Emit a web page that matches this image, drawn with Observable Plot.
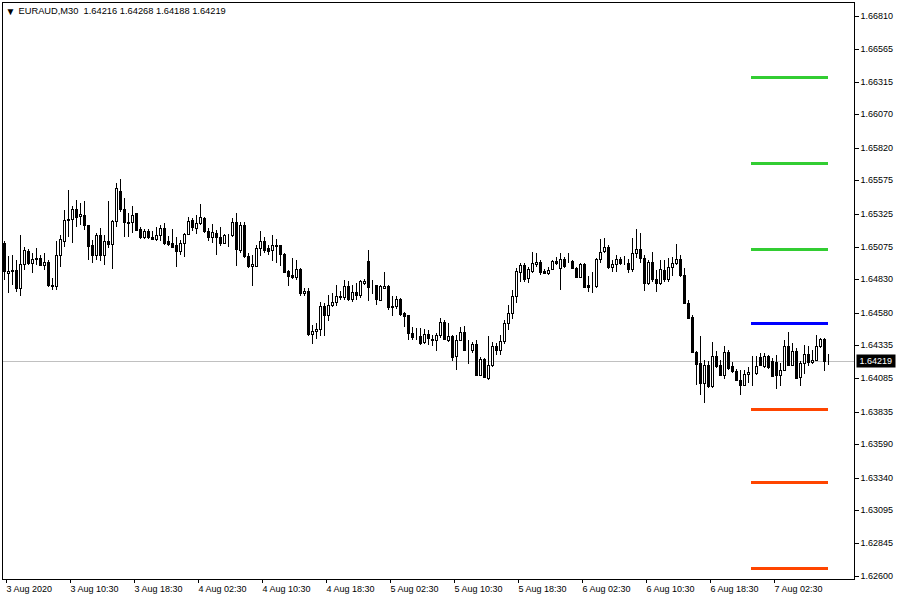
<!DOCTYPE html>
<html><head><meta charset="utf-8">
<script src="https://cdn.jsdelivr.net/npm/d3@7"></script>
<script src="https://cdn.jsdelivr.net/npm/@observablehq/plot@0.6"></script>
<style>
body{margin:0;background:#fff;}
#chart{position:relative;width:900px;height:600px;}
</style></head><body><div id="chart"></div>
<script>
const symbol = "EURAUD", timeframe = "M30";

const open = [
1.65102,1.64877,1.64895,1.64902,1.64765,1.64945,1.65047,1.64952,1.64992,1.64990,
1.64935,1.64960,1.64790,1.64777,1.65015,1.65122,1.65277,1.65282,1.65357,1.65307,
1.65315,1.65240,1.65090,1.65010,1.65165,1.65010,1.65120,1.65097,1.65270,1.65495,
1.65357,1.65260,1.65260,1.65327,1.65210,1.65145,1.65195,1.65150,1.65132,1.65165,
1.65215,1.65115,1.65102,1.65090,1.65045,1.65102,1.65172,1.65277,1.65215,1.65257,
1.65290,1.65190,1.65152,1.65182,1.65152,1.65107,1.65165,1.65160,1.65265,1.65052,
1.65240,1.65007,1.64927,1.64932,1.65065,1.65120,1.65065,1.65052,1.65085,1.65090,
1.65022,1.64890,1.64865,1.64845,1.64907,1.64727,1.64745,1.64420,1.64442,1.64460,
1.64632,1.64560,1.64635,1.64660,1.64702,1.64697,1.64782,1.64682,1.64737,1.64715,
1.64802,1.64970,1.64772,1.64790,1.64677,1.64765,1.64782,1.64627,1.64632,1.64682,
1.64576,1.64563,1.64426,1.64398,1.64408,1.64356,1.64421,1.64383,1.64376,1.64413,
1.64508,1.64376,1.64406,1.64256,1.64376,1.64438,1.64298,1.64296,1.64346,1.64113,
1.64231,1.64088,1.64188,1.64331,1.64296,1.64363,1.64501,1.64576,1.64706,1.64888,
1.64938,1.64838,1.64896,1.64946,1.64963,1.64896,1.64881,1.64906,1.64971,1.64913,
1.64981,1.64971,1.64971,1.64913,1.64851,1.64943,1.64788,1.64783,1.64783,1.64981,
1.65046,1.65071,1.64921,1.64943,1.64981,1.64951,1.64956,1.64906,1.65026,1.65056,
1.64988,1.64801,1.64963,1.64831,1.64801,1.64901,1.64831,1.64921,1.64951,1.64983,
1.64863,1.64656,1.64546,1.64281,1.64201,1.64051,1.64188,1.64026,1.64256,1.64188,
1.64113,1.64281,1.64176,1.64138,1.64076,1.64038,1.64121,1.64133,1.64126,1.64246,
1.64176,1.64256,1.64213,1.64206,1.64108,1.64151,1.64331,1.64188,1.64293,1.64096,
1.64201,1.64271,1.64206,1.64226,1.64326,1.64381,1.64216];

const high = [
1.65115,1.65002,1.65015,1.64977,1.65165,1.65077,1.65057,1.65027,1.65065,1.65015,
1.65027,1.64972,1.64840,1.65115,1.65165,1.65352,1.65502,1.65382,1.65427,1.65402,
1.65422,1.65240,1.65127,1.65182,1.65215,1.65165,1.65422,1.65277,1.65557,1.65582,
1.65440,1.65327,1.65382,1.65332,1.65227,1.65207,1.65207,1.65195,1.65222,1.65240,
1.65252,1.65157,1.65207,1.65152,1.65127,1.65182,1.65302,1.65290,1.65315,1.65397,
1.65302,1.65215,1.65245,1.65202,1.65227,1.65172,1.65170,1.65290,1.65327,1.65265,
1.65265,1.65032,1.65015,1.65090,1.65197,1.65152,1.65090,1.65165,1.65132,1.65090,
1.65027,1.64902,1.64990,1.64977,1.64915,1.64765,1.64765,1.64490,1.64502,1.64657,
1.64652,1.64715,1.64727,1.64790,1.64740,1.64827,1.64815,1.64790,1.64802,1.64827,
1.64832,1.65052,1.64822,1.64790,1.64790,1.64885,1.64790,1.64702,1.64702,1.64690,
1.64588,1.64563,1.64471,1.64463,1.64463,1.64456,1.64446,1.64413,1.64426,1.64538,
1.64526,1.64501,1.64413,1.64413,1.64471,1.64476,1.64376,1.64356,1.64376,1.64246,
1.64238,1.64406,1.64356,1.64351,1.64413,1.64526,1.64638,1.64751,1.64913,1.64951,
1.64951,1.64926,1.65033,1.65026,1.64976,1.64906,1.64926,1.64976,1.65001,1.65026,
1.65001,1.65031,1.64976,1.64926,1.64956,1.64956,1.64856,1.64888,1.64988,1.65131,
1.65138,1.65088,1.64976,1.65013,1.65001,1.65006,1.64981,1.65138,1.65206,1.65176,
1.65013,1.64976,1.65038,1.64901,1.64976,1.64976,1.64988,1.65001,1.65096,1.65013,
1.64913,1.64676,1.64563,1.64288,1.64401,1.64226,1.64213,1.64356,1.64288,1.64226,
1.64331,1.64296,1.64206,1.64156,1.64151,1.64151,1.64171,1.64251,1.64251,1.64276,
1.64276,1.64263,1.64238,1.64263,1.64201,1.64376,1.64438,1.64351,1.64313,1.64213,
1.64338,1.64326,1.64296,1.64413,1.64388,1.64388,1.64268];

const low = [
1.64827,1.64727,1.64790,1.64732,1.64702,1.64902,1.64940,1.64877,1.64940,1.64927,
1.64902,1.64772,1.64752,1.64752,1.64920,1.65072,1.65152,1.65102,1.65227,1.65240,
1.65202,1.64977,1.64952,1.64977,1.64965,1.64940,1.65065,1.64907,1.65222,1.65340,
1.65152,1.65147,1.65177,1.65190,1.65132,1.65132,1.65135,1.65127,1.65122,1.65115,
1.65090,1.65082,1.65072,1.64920,1.65015,1.64997,1.65160,1.65197,1.65172,1.65240,
1.65177,1.65122,1.65107,1.65015,1.65082,1.65097,1.65077,1.65152,1.64927,1.65027,
1.64990,1.64915,1.64782,1.64922,1.65002,1.65027,1.65015,1.64965,1.64952,1.64927,
1.64882,1.64777,1.64832,1.64827,1.64707,1.64702,1.64402,1.64347,1.64382,1.64402,
1.64402,1.64515,1.64622,1.64627,1.64672,1.64672,1.64665,1.64657,1.64672,1.64690,
1.64790,1.64665,1.64722,1.64640,1.64665,1.64757,1.64602,1.64552,1.64607,1.64552,
1.64471,1.64376,1.64376,1.64371,1.64338,1.64346,1.64338,1.64326,1.64288,1.64388,
1.64371,1.64356,1.64213,1.64146,1.64363,1.64288,1.64196,1.64276,1.64101,1.64101,
1.64088,1.64071,1.64171,1.64263,1.64263,1.64346,1.64451,1.64531,1.64651,1.64813,
1.64813,1.64806,1.64881,1.64926,1.64863,1.64871,1.64863,1.64901,1.64938,1.64751,
1.64913,1.64951,1.64906,1.64838,1.64838,1.64763,1.64738,1.64731,1.64763,1.64956,
1.65026,1.64906,1.64888,1.64888,1.64938,1.64938,1.64876,1.64888,1.64988,1.64951,
1.64746,1.64788,1.64813,1.64738,1.64788,1.64813,1.64813,1.64856,1.64938,1.64851,
1.64651,1.64531,1.64276,1.64038,1.63963,1.63901,1.64013,1.64013,1.64163,1.64101,
1.64081,1.64151,1.64126,1.64063,1.63963,1.64026,1.64051,1.64026,1.64113,1.64176,
1.64163,1.64156,1.64096,1.64006,1.64026,1.64146,1.64176,1.64176,1.64081,1.64026,
1.64121,1.64176,1.64196,1.64213,1.64313,1.64138,1.64188];

const close = [
1.64890,1.64895,1.64902,1.64765,1.64945,1.65052,1.64952,1.64982,1.64982,1.64935,
1.64960,1.64785,1.64777,1.65015,1.65132,1.65277,1.65282,1.65357,1.65297,1.65322,
1.65240,1.65082,1.65010,1.65165,1.65010,1.65120,1.65097,1.65270,1.65515,1.65357,
1.65260,1.65257,1.65315,1.65202,1.65145,1.65195,1.65145,1.65132,1.65165,1.65215,
1.65102,1.65097,1.65077,1.65045,1.65107,1.65172,1.65272,1.65222,1.65252,1.65297,
1.65190,1.65152,1.65185,1.65152,1.65107,1.65165,1.65160,1.65260,1.65057,1.65240,
1.65007,1.64927,1.64945,1.65065,1.65120,1.65052,1.65047,1.65090,1.65082,1.65020,
1.64882,1.64852,1.64845,1.64907,1.64727,1.64740,1.64420,1.64442,1.64460,1.64632,
1.64560,1.64640,1.64660,1.64702,1.64700,1.64782,1.64682,1.64737,1.64715,1.64820,
1.64820,1.64772,1.64770,1.64682,1.64777,1.64782,1.64622,1.64625,1.64682,1.64572,
1.64558,1.64426,1.64396,1.64396,1.64351,1.64421,1.64388,1.64371,1.64413,1.64508,
1.64381,1.64406,1.64246,1.64376,1.64438,1.64296,1.64296,1.64346,1.64113,1.64231,
1.64096,1.64188,1.64331,1.64296,1.64363,1.64501,1.64576,1.64706,1.64896,1.64938,
1.64831,1.64906,1.64956,1.64963,1.64888,1.64881,1.64901,1.64971,1.64951,1.64981,
1.64931,1.64968,1.64913,1.64851,1.64943,1.64776,1.64776,1.64781,1.64981,1.65038,
1.65071,1.64921,1.64943,1.64981,1.64956,1.64956,1.64906,1.65026,1.65056,1.64988,
1.64801,1.64963,1.64831,1.64801,1.64906,1.64831,1.64921,1.64951,1.64983,1.64863,
1.64656,1.64538,1.64281,1.64196,1.64051,1.64188,1.64026,1.64256,1.64181,1.64113,
1.64281,1.64163,1.64138,1.64071,1.64038,1.64121,1.64133,1.64131,1.64176,1.64188,
1.64256,1.64171,1.64106,1.64113,1.64151,1.64331,1.64188,1.64288,1.64088,1.64201,
1.64271,1.64206,1.64226,1.64326,1.64381,1.64218,1.64219];

const xTickBars = [0,16,32,48,64,80,96,112,128,144,160,176,192];
const xTickLabels = ["3 Aug 2020","3 Aug 10:30","3 Aug 18:30","4 Aug 02:30","4 Aug 10:30","4 Aug 18:30",
  "5 Aug 02:30","5 Aug 10:30","5 Aug 18:30","6 Aug 02:30","6 Aug 10:30","6 Aug 18:30","7 Aug 02:30"];
const yTicks = [1.66810,1.66565,1.66315,1.66070,1.65820,1.65575,1.65325,1.65075,1.64830,
  1.64580,1.64335,1.64085,1.63835,1.63590,1.63340,1.63095,1.62845,1.62600];

const levelPrices = [1.66351,1.65704,1.65058,1.64501,1.63854,1.63305,1.62659];
const levelColors = ["#32cd32","#32cd32","#32cd32","#0000ff","#ff4500","#ff4500","#ff4500"];
const levelFromBar = 186.75, levelToBar = 206;

const candles = open.map((o, i) => ({i, open: o, high: high[i], low: low[i], close: close[i]}));
const levels = levelPrices.map((p, k) => ({price: p, color: levelColors[k], from: levelFromBar, to: levelToBar}));
const last = candles.length - 1;
const lastClose = close[last];
const lastLabel = lastClose.toFixed(5);
const title = `${symbol},${timeframe}  ` + [open[last], high[last], low[last], close[last]].map(v => v.toFixed(5)).join(" ");

const crisp = {shapeRendering: "crispEdges"};
const plot = Plot.plot({
  width: 900, height: 600,
  marginLeft: 2, marginRight: 46, marginTop: 2, marginBottom: 21,
  style: {fontFamily: "'Liberation Sans', Arial, sans-serif", fontSize: "9px", color: "#000", background: "#fff"},
  x: {domain: [-0.5, 212.5], axis: null, round: true},
  y: {domain: [1.6257745, 1.6691525], axis: null, round: true},
  marks: [
    Plot.ruleY([lastClose], {stroke: "#c0c0c0", ...crisp}),
    Plot.ruleY(levels, {y: "price", x1: "from", x2: "to", stroke: "color", strokeWidth: 3, ...crisp}),
    Plot.ruleX(candles, {x: "i", y1: "low", y2: "high", stroke: "#000", ...crisp}),
    Plot.rect(candles, {x1: d => d.i - 0.25, x2: d => d.i + 0.25, y1: "open", y2: "close",
      fill: d => d.close >= d.open ? "#ffffff" : "#000000", stroke: "#000", ...crisp}),
    Plot.frame({stroke: "#000", ...crisp}),
    Plot.axisY({anchor: "right", ticks: yTicks, tickSize: 4, tickPadding: 2, tickFormat: d => d.toFixed(5), ...crisp}),
    Plot.axisX({anchor: "bottom", ticks: xTickBars, tickSize: 4, tickPadding: 2, textAnchor: "start", dx: 2,
      tickFormat: d => xTickLabels[xTickBars.indexOf(d)], ...crisp}),
    Plot.text(["▼"], {frameAnchor: "top-left", dx: 3, dy: 5, fontSize: 10}),
    Plot.text([title], {frameAnchor: "top-left", dx: 16, dy: 5, fontSize: 9.3}),
    Plot.text([lastClose], {y: d => d, frameAnchor: "right", dx: 5, textAnchor: "start", fill: "#fff",
      text: () => lastLabel})
  ]
});
document.getElementById("chart").append(plot);

const t = Array.from(plot.querySelectorAll("text")).find(e => e.textContent === lastLabel);
if (t) {
  const bb = t.getBBox();
  const r = document.createElementNS("http://www.w3.org/2000/svg", "rect");
  r.setAttribute("x", Math.round(bb.x) - 3);
  r.setAttribute("y", Math.round(bb.y) - 2);
  r.setAttribute("width", Math.round(bb.width) + 6);
  r.setAttribute("height", Math.round(bb.height) + 3);
  r.setAttribute("fill", "#000");
  if (t.getAttribute("transform")) r.setAttribute("transform", t.getAttribute("transform"));
  t.parentNode.insertBefore(r, t);
}
</script></body></html>
